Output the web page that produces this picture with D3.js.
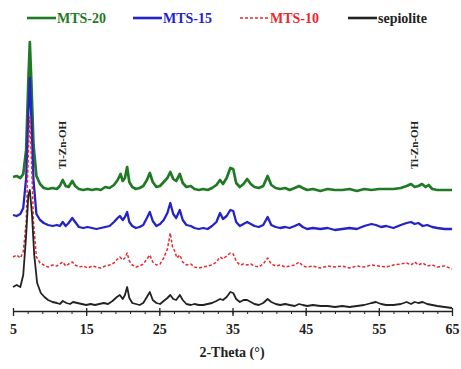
<!DOCTYPE html>
<html>
<head>
<meta charset="utf-8">
<script src="https://cdn.jsdelivr.net/npm/d3@7"></script>
<style>
    body{margin:0;background:#fff;}
    text{font-family:"Liberation Serif","DejaVu Serif",serif;font-weight:bold;}
</style>
</head>
<body>
<div class="chart"></div>
<script>
//XRD data: [2-theta, intensity] per sample
var seriesNames=["MTS-20","MTS-15","MTS-10","sepiolite"];
var seriesColors=["#1f7a24","#2323c8","#e8282c","#222222"];
var seriesOffsets=[121,83,44,6];
var xTicks=[5,15,25,35,45,55,65];
var annoLabels=["Ti-Zn-OH","Ti-Zn-OH"];
var annoTheta=[11.8,59.9];

var mts20=[[5,13],[5.5,14],[6,12],[6.4,16],[6.8,40],[7.1,110],[7.3,148],[7.5,110],[7.8,45],[8.2,14],[8.7,6],[9.2,2],[9.8,1],[10.4,2],[11,1],[11.4,4],[11.8,10],[12.2,4],[12.6,3],[13.1,9],[13.5,4],[14,1],[14.6,0],[15.2,1],[15.8,0],[16.4,1],[17,0],[17.6,3],[18.2,2],[18.8,5],[19.3,10],[19.7,16],[20.0,9],[20.3,12],[20.6,23],[20.9,8],[21.3,3],[21.8,1],[22.3,2],[22.8,4],[23.3,10],[23.7,17],[24.1,8],[24.6,3],[25.1,4],[25.6,8],[26.1,12],[26.5,18],[26.9,11],[27.3,9],[27.8,16],[28.2,7],[28.7,3],[29.3,4],[29.8,1],[30.4,0],[31,1],[31.6,0],[32.2,2],[32.8,5],[33.3,10],[33.7,6],[34.2,12],[34.7,22],[35.1,21],[35.5,7],[36,3],[36.5,6],[37.0,11],[37.5,6],[38,3],[38.6,2],[39.2,4],[39.8,14],[40.3,5],[40.9,2],[41.5,1],[42.2,2],[42.8,0],[43.5,2],[44.1,4],[44.6,2],[45.2,0],[46,1],[47,-1],[48,1],[49,0],[50,0],[51,1],[52,-1],[53,1],[54,0],[55,1],[56,1],[57,1],[58,2],[58.8,4],[59.4,6],[59.9,3],[60.4,4],[60.9,6],[61.4,3],[61.8,5],[62.3,1],[63,0],[64,0],[65,0]];
var mts15=[[5,13],[5.5,12],[6,14],[6.4,20],[6.8,50],[7.1,115],[7.3,150],[7.5,112],[7.8,48],[8.2,14],[8.7,8],[9.2,5],[9.8,3],[10.4,2],[11,3],[11.4,2],[11.8,6],[12.2,2],[12.6,5],[13.1,10],[13.5,6],[14,1],[14.6,0],[15.2,1],[15.8,0],[16.4,-1],[17,0],[17.6,1],[18.2,2],[18.8,6],[19.3,10],[19.6,12],[20.0,8],[20.3,11],[20.6,16],[20.9,6],[21.3,2],[21.8,0],[22.3,1],[22.8,3],[23.3,10],[23.7,16],[24.1,7],[24.6,2],[25.1,4],[25.6,8],[26.1,15],[26.5,25],[26.9,14],[27.3,10],[27.8,18],[28.2,8],[28.7,3],[29.3,2],[29.8,0],[30.4,-1],[31,0],[31.6,-1],[32.2,2],[32.8,6],[33.3,15],[33.7,9],[34.2,12],[34.7,18],[35.1,17],[35.5,6],[36,2],[36.5,4],[37.0,6],[37.5,4],[38,2],[38.6,1],[39.2,3],[39.8,11],[40.3,3],[40.9,1],[41.5,0],[42.2,1],[42.8,0],[43.5,2],[44.1,4],[44.6,1],[45.2,-1],[46,0],[47,-1],[48,0],[49,-2],[50,-1],[51,0],[52,-1],[53,2],[54,4],[54.6,3],[55.3,1],[56,2],[57,0],[58,3],[58.8,5],[59.4,6],[59.9,4],[60.4,5],[61,2],[61.6,3],[62.3,1],[63,0],[64,-1],[65,-1]];
var mts10=[[5,10],[5.5,12],[6,9],[6.4,15],[6.8,45],[7.1,115],[7.3,150],[7.5,112],[7.8,45],[8.2,10],[8.7,4],[9.2,2],[9.8,0],[10.4,2],[11,1],[11.4,3],[11.8,5],[12.2,1],[12.6,3],[13.1,5],[13.5,2],[14,0],[14.6,1],[15.2,-1],[15.8,1],[16.4,0],[17,-1],[17.6,1],[18.2,2],[18.8,4],[19.3,8],[19.6,10],[20.0,7],[20.3,9],[20.6,14],[20.9,6],[21.3,2],[21.8,0],[22.3,1],[22.8,3],[23.3,8],[23.7,12],[24.1,5],[24.6,2],[25.1,3],[25.6,9],[26.1,18],[26.5,34],[26.8,20],[27.1,16],[27.4,9],[27.8,12],[28.2,5],[28.7,2],[29.3,3],[29.8,0],[30.4,-1],[31,0],[31.6,1],[32.2,2],[32.8,5],[33.3,10],[33.7,8],[34.2,11],[34.7,14],[35.1,13],[35.5,6],[36,2],[36.5,3],[37.0,2],[37.5,3],[38,1],[38.6,0],[39.2,3],[39.8,9],[40.3,3],[40.9,1],[41.5,2],[42.2,0],[42.8,1],[43.5,2],[44.1,5],[44.6,1],[45.2,0],[46,1],[47,-1],[48,1],[49,0],[50,1],[51,-1],[52,1],[53,0],[54,2],[55,1],[56,0],[57,2],[58,3],[58.8,4],[59.4,2],[59.9,5],[60.4,2],[61,4],[61.6,1],[62.3,2],[63,0],[64,1],[65,-2]];
var sepiolite=[[5,18],[5.5,20],[6,18],[6.4,30],[6.8,70],[7.1,110],[7.3,115],[7.6,90],[7.9,50],[8.3,22],[8.8,12],[9.3,8],[9.8,5],[10.4,3],[11,2],[11.4,1],[11.8,4],[12.3,2],[12.8,1],[13.2,3],[13.8,2],[14.4,1],[15,0],[15.6,1],[16.2,0],[16.8,1],[17.4,2],[18,1],[18.6,4],[19.2,8],[19.6,10],[20.0,6],[20.3,10],[20.6,18],[20.9,7],[21.3,2],[21.8,1],[22.3,0],[22.8,2],[23.3,8],[23.7,13],[24.1,5],[24.6,2],[25.1,1],[25.6,4],[26.1,7],[26.5,10],[26.9,6],[27.3,5],[27.8,10],[28.2,5],[28.7,1],[29.3,0],[29.8,1],[30.4,0],[31,0],[31.6,1],[32.2,2],[32.8,4],[33.3,6],[33.7,5],[34.2,8],[34.7,13],[35.1,12],[35.5,6],[36,3],[36.5,5],[37.0,5],[37.5,3],[38,1],[38.6,0],[39.2,2],[39.8,6],[40.3,3],[40.9,1],[41.5,0],[42.2,1],[42.8,0],[43.5,-1],[44.1,1],[44.6,0],[45.2,-1],[46,0],[47,-1],[48,-1],[49,-2],[50,-1],[51,-2],[52,-1],[53,0],[54,2],[54.6,3],[55.3,1],[56,0],[57,0],[58,1],[58.8,3],[59.4,1],[59.9,3],[60.4,2],[61,3],[61.6,1],[62.3,0],[63,-1],[64,-2],[65,-3]];
var allSeries=[mts20,mts15,mts10,sepiolite];

var width=461,height=369;
var svg=d3.select(".chart")
    .append("svg")
    .attr("width",width)
    .attr("height",height);

var x=d3.scaleLinear().domain([5,65]).range([13,452]);
var y=d3.scaleLinear().domain([0,270]).range([311,41]);

//curves, MTS-20 first so the lower ones lie on top
var line=d3.line()
    .x(function (d) { return x(d[0]); });
var widths=[2.7,2.3,1.5,1.8];
allSeries.forEach(function (data,i) {
    line.y(function (d) { return y(d[1]+seriesOffsets[i]); });
    svg.append("path")
        .datum(data)
        .attr("fill","none")
        .attr("stroke",seriesColors[i])
        .attr("stroke-width",widths[i])
        .attr("stroke-linejoin","round")
        .attr("stroke-dasharray",i==2?"3,2":null)
        .attr("d",line);
});

//x axis
var minorAxis=d3.axisBottom(x)
    .tickValues(d3.range(5,66,2))
    .tickSize(3)
    .tickFormat("");
svg.append("g")
    .attr("transform","translate(0,311)")
    .call(minorAxis)
    .call(function (g) { g.select(".domain").remove(); })
    .selectAll("line").attr("stroke","#222");
var xAxis=d3.axisBottom(x)
    .tickValues(xTicks)
    .tickSizeInner(5)
    .tickSizeOuter(0)
    .tickPadding(8);
var gx=svg.append("g")
    .attr("transform","translate(0,311)")
    .call(xAxis);
gx.select(".domain").attr("stroke","#222").attr("stroke-width",1.6);
gx.selectAll(".tick line").attr("stroke","#222").attr("y1",-3).attr("stroke-width",1.3);
gx.selectAll(".tick text")
    .attr("font-size",14)
    .attr("fill","#222")
    .style("font-family","Liberation Serif, serif")
    .style("font-weight","bold");

svg.append("text")
    .attr("x",232)
    .attr("y",357)
    .attr("text-anchor","middle")
    .attr("font-size",14)
    .attr("fill","#222")
    .text("2-Theta (°)");

//annotation
annoLabels.forEach(function (t,i) {
    svg.append("text")
        .attr("transform","translate("+(x(annoTheta[i])+3)+",145) rotate(-90)")
        .attr("text-anchor","middle")
        .attr("font-size",11)
        .attr("fill","#222")
        .text(t);
});

//legend
var legendX=[27,133,240,348];
var legend=svg.append("g").attr("transform","translate(0,18)");
seriesNames.forEach(function (name,i) {
    legend.append("line")
        .attr("x1",legendX[i])
        .attr("x2",legendX[i]+29)
        .attr("stroke",seriesColors[i])
        .attr("stroke-width",i==2?1.6:2.6)
        .attr("stroke-dasharray",i==2?"3,2":null);
    legend.append("text")
        .attr("x",legendX[i]+30)
        .attr("y",5)
        .attr("font-size",14)
        .attr("fill",seriesColors[i])
        .text(name);
});
</script>
</body>
</html>
